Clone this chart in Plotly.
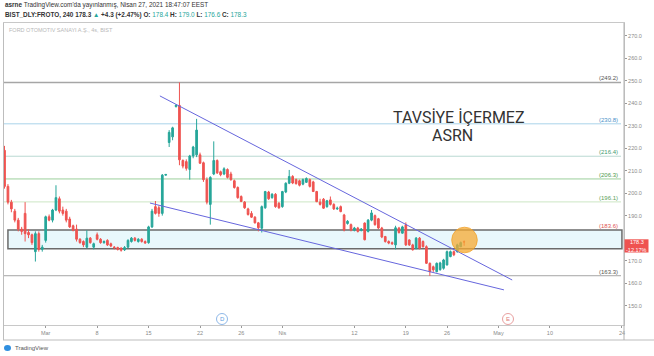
import numpy as np
import pandas as pd
import plotly.graph_objects as go

# ---------------- data ----------------
holidays = ["2021-04-23", "2021-05-13", "2021-05-14", "2021-05-19"]
bars_per_day = 3

opens = [219.0, 203.0, 196.0, 192.0, 188.0, 184.0, 191.0, 182.5, 181.5, 174.0,
         182.0, 175.0, 179.0, 189.5, 188.0, 192.5, 197.5, 192.5, 192.0, 188.5,
         185.5, 184.0, 179.5, 178.5, 176.0, 180.0, 176.0, 181.5, 179.5, 178.0,
         179.0, 177.5, 176.0, 175.8, 175.5, 174.8, 176.0, 178.5, 180.0, 178.5,
         179.5, 178.5, 178.0, 185.0, 194.0, 193.5, 191.0, 208.0, 222.5, 225.0,
         238.5, 239.0, 214.5, 214.0, 210.5, 216.5, 217.0, 217.0, 213.5, 206.0,
         195.0, 208.5, 214.5, 209.5, 208.5, 210.5, 208.5, 205.5, 202.5, 198.5,
         196.0, 193.0, 191.0, 189.3, 186.8, 184.4, 193.5, 200.5, 198.0, 199.5,
         195.5, 194.0, 200.5, 204.4, 207.4, 206.0, 205.5, 204.0, 204.8, 206.0,
         205.0, 200.7, 196.0, 197.3, 194.0, 197.0, 195.0, 193.0, 194.0, 190.3,
         186.5, 186.0, 183.5, 184.5, 183.5, 186.7, 183.0, 188.0, 190.0, 188.6,
         184.5, 180.7, 178.5, 178.0, 177.0, 184.5, 182.2, 185.9, 179.2, 177.0,
         175.5, 180.0, 178.5, 176.2, 168.8, 167.3, 165.1, 166.0, 166.6, 168.1,
         171.8, 174.0, 174.0, 176.2, 178.4]
highs = [221.0, 204.0, 197.0, 193.0, 189.0, 185.0, 196.0, 184.0, 182.0, 183.0,
         183.0, 177.0, 190.0, 190.5, 193.0, 203.5, 198.5, 194.0, 193.0, 189.5,
         186.0, 186.0, 180.0, 179.0, 183.5, 180.5, 178.0, 182.5, 180.0, 179.0,
         179.5, 178.0, 176.5, 176.2, 176.0, 176.5, 179.5, 180.5, 180.5, 180.0,
         180.0, 179.0, 185.5, 193.0, 196.5, 194.5, 208.5, 208.5, 228.0, 229.5,
         239.5, 249.2, 215.0, 215.0, 217.0, 221.0, 233.0, 218.0, 214.0, 207.0,
         207.5, 223.0, 215.0, 210.0, 211.5, 211.0, 209.5, 206.0, 203.0, 199.0,
         196.5, 193.5, 192.0, 189.8, 187.2, 194.5, 201.0, 201.0, 200.0, 200.0,
         196.0, 201.0, 204.8, 210.3, 208.0, 206.5, 206.0, 206.5, 207.0, 206.5,
         205.5, 201.0, 197.5, 197.8, 197.0, 198.5, 195.5, 194.0, 194.5, 190.8,
         188.0, 186.5, 185.0, 185.0, 184.5, 187.0, 188.5, 192.5, 190.5, 189.0,
         185.0, 181.0, 179.0, 178.5, 185.5, 185.0, 185.5, 187.0, 179.5, 177.5,
         180.5, 180.5, 179.0, 176.8, 169.2, 167.8, 169.2, 169.5, 170.8, 174.5,
         174.5, 174.5, 177.5, 178.5, 179.0]
lows = [202.0, 195.0, 191.5, 187.0, 183.0, 181.5, 178.5, 180.0, 177.0, 169.6,
        174.0, 174.0, 178.0, 187.5, 187.0, 192.0, 191.0, 190.0, 187.0, 184.5,
        183.0, 178.5, 177.5, 176.0, 175.5, 177.5, 175.0, 179.0, 177.5, 177.5,
        176.5, 176.0, 175.0, 174.5, 174.0, 174.3, 175.5, 178.0, 178.5, 178.0,
        178.0, 177.5, 177.5, 184.5, 190.5, 189.5, 190.0, 207.8, 220.5, 223.5,
        238.0, 212.4, 211.0, 210.0, 206.0, 215.5, 216.0, 213.0, 205.0, 195.0,
        186.0, 208.0, 208.5, 207.5, 208.0, 206.5, 205.5, 202.0, 197.5, 196.0,
        193.0, 190.0, 189.0, 186.5, 183.0, 182.5, 193.0, 197.0, 197.5, 193.5,
        193.0, 193.5, 200.0, 204.0, 204.0, 203.8, 203.0, 203.5, 204.5, 202.5,
        200.5, 196.0, 194.5, 193.0, 193.5, 194.5, 192.5, 192.5, 191.5, 183.0,
        186.0, 183.0, 183.0, 182.5, 183.0, 179.0, 182.5, 187.5, 185.5, 184.0,
        180.0, 178.0, 177.3, 177.0, 175.0, 182.0, 182.0, 176.5, 176.5, 174.5,
        175.0, 175.0, 175.8, 168.5, 163.2, 165.0, 164.8, 165.5, 166.0, 167.8,
        171.5, 172.0, 173.5, 176.0, 176.6]
closes = [203.0, 196.0, 193.0, 188.0, 184.0, 183.0, 182.0, 181.5, 178.0, 182.0,
          175.0, 176.0, 189.5, 188.0, 192.5, 198.0, 192.0, 191.0, 188.0, 185.0,
          183.5, 179.5, 178.0, 177.0, 180.0, 178.0, 177.5, 179.5, 178.0, 178.5,
          177.0, 176.5, 175.8, 175.0, 174.6, 175.8, 179.0, 180.0, 179.0, 179.5,
          178.5, 177.8, 185.0, 192.0, 191.0, 191.0, 208.0, 208.3, 227.0, 229.0,
          239.0, 214.8, 212.0, 211.0, 216.5, 220.5, 228.0, 213.3, 206.0, 196.0,
          207.0, 214.5, 209.0, 208.2, 210.8, 207.0, 206.0, 202.5, 198.0, 196.3,
          193.5, 190.5, 189.3, 186.8, 184.6, 194.0, 200.7, 197.5, 199.5, 194.0,
          193.5, 200.7, 204.4, 207.4, 204.5, 204.2, 203.5, 206.0, 206.5, 203.0,
          200.7, 196.2, 195.0, 193.3, 196.6, 195.0, 193.0, 193.3, 191.8, 183.6,
          187.5, 183.6, 184.5, 183.0, 184.0, 179.3, 188.0, 191.2, 186.0, 184.5,
          180.5, 178.5, 177.8, 177.5, 184.6, 182.5, 185.0, 177.0, 177.0, 174.8,
          180.0, 175.5, 176.2, 168.8, 165.1, 165.9, 168.8, 169.0, 170.3, 174.0,
          174.0, 172.6, 177.0, 178.0, 178.3]

tick_dates = ["2021-03-01", "2021-03-08", "2021-03-15", "2021-03-22", "2021-03-26",
              "2021-04-01", "2021-04-12", "2021-04-19", "2021-04-26", "2021-05-03",
              "2021-05-10", "2021-05-24"]
tick_labels = ["Mar", "8", "15", "22", "26", "Nis", "12", "19", "26", "May", "10", "24"]

price_ticks = [150, 160, 170, 190, 200, 210, 220, 230, 240, 250, 260, 270]

levels = [249.2, 230.8, 216.4, 206.3, 196.1, 163.3]
level_line_colors = ["#a6a6a6", "#a9d3ea", "#b9d9d2", "#9ccf9c", "#cce6c4", "#a6a6a6"]
level_text_colors = ["#555555", "#4a90c8", "#3f9a6f", "#4c9a4c", "#5aa05a", "#555555"]

box_x = [1.0, 180.0]
box_y = [175.3, 183.6]

upper_x = [45.3, 148.0]
upper_y = [243.2, 161.4]
lower_x = [42.4, 145.6]
lower_y = [195.6, 157.0]

# ---------------- geometry helpers ----------------
L, R, T, B = 4, 30, 23, 31
W, H = 654, 356
PW, PH = W - L - R, H - T - B


def xp(px):
    return (px - L) / PW


def yp(py):
    return (H - B - py) / PH


days = pd.bdate_range("2021-02-23", "2021-05-24")
days = [d.strftime("%Y-%m-%d") for d in days if d.strftime("%Y-%m-%d") not in holidays]
x = np.arange(len(opens))
tickvals = [days.index(d) * bars_per_day for d in tick_dates]

fig = go.Figure()

fig.add_trace(go.Candlestick(
    x=x, open=opens, high=highs, low=lows, close=closes,
    increasing=dict(line=dict(color="#26a69a", width=1), fillcolor="#26a69a"),
    decreasing=dict(line=dict(color="#ef5350", width=1), fillcolor="#ef5350"),
    whiskerwidth=0, showlegend=False, hoverinfo="skip"))

fig.add_trace(go.Scatter(x=upper_x, y=upper_y, mode="lines",
                         line=dict(color="#6666dd", width=1), showlegend=False, hoverinfo="skip"))
fig.add_trace(go.Scatter(x=lower_x, y=lower_y, mode="lines",
                         line=dict(color="#6666dd", width=1), showlegend=False, hoverinfo="skip"))

shapes = []
for lv, lc in zip(levels, level_line_colors):
    shapes.append(dict(type="line", xref="paper", yref="y", x0=0, x1=xp(621), y0=lv, y1=lv,
                       line=dict(color=lc, width=1.5 if lv == levels[0] else 1), layer="below"))
shapes.append(dict(type="rect", xref="x", yref="y", x0=box_x[0], x1=box_x[1], y0=box_y[0], y1=box_y[1],
                   line=dict(color="#6b6b6b", width=1.5), fillcolor="rgba(228,246,251,0.8)", layer="below"))
# orange highlight circle
shapes.append(dict(type="circle", xref="paper", yref="paper",
                   x0=xp(451.7), x1=xp(477.3), y0=yp(252.8), y1=yp(227.2),
                   line=dict(color="rgba(240,160,40,0.75)", width=1), fillcolor="rgba(245,170,50,0.75)"))
# D and E markers
shapes.append(dict(type="circle", xref="paper", yref="paper", x0=xp(216.5), x1=xp(227.5),
                   y0=yp(324.5), y1=yp(313.5), line=dict(color="#8fb8e8", width=1), fillcolor="white"))
shapes.append(dict(type="circle", xref="paper", yref="paper", x0=xp(502.5), x1=xp(513.5),
                   y0=yp(324.5), y1=yp(313.5), line=dict(color="#e8a0a0", width=1), fillcolor="white"))
# outer frame lines
shapes.append(dict(type="line", xref="paper", yref="paper", x0=xp(3), x1=xp(654), y0=yp(340), y1=yp(340),
                   line=dict(color="#bdbdbd", width=1)))
shapes.append(dict(type="line", xref="paper", yref="paper", x0=xp(3.5), x1=xp(3.5), y0=yp(340), y1=yp(23),
                   line=dict(color="#bdbdbd", width=1)))
shapes.append(dict(type="line", xref="paper", yref="paper", x0=xp(624), x1=xp(624), y0=yp(340), y1=yp(23),
                   line=dict(color="#b0b0b0", width=1)))
# last price label
shapes.append(dict(type="rect", xref="paper", yref="paper", x0=xp(624.5), x1=xp(648.5),
                   y0=yp(252.5), y1=yp(239.3), line=dict(width=0), fillcolor="#ef5350"))
# TradingView logo blob
shapes.append(dict(type="circle", xref="paper", yref="paper", x0=xp(4), x1=xp(11),
                   y0=yp(351), y1=yp(345), line=dict(width=0), fillcolor="#2f8fe0"))

ann = []
for lv, tc in zip(levels, level_text_colors):
    ann.append(dict(xref="paper", yref="y", x=xp(620), y=lv, text="(%.1f)" % lv, showarrow=False,
                    xanchor="right", yanchor="bottom", yshift=-1,
                    font=dict(size=6, color=tc, family="Liberation Sans")))
ann.append(dict(xref="paper", yref="y", x=xp(620), y=box_y[1], text="(183.6)", showarrow=False,
                xanchor="right", yanchor="bottom", yshift=-1,
                font=dict(size=6, color="#e05555", family="Liberation Sans")))
ann.append(dict(xref="paper", yref="paper", x=xp(459), y=yp(117), text="TAVSİYE İÇERMEZ", showarrow=False,
                xanchor="center", yanchor="middle", font=dict(size=16, color="#333333", family="Roboto")))
ann.append(dict(xref="paper", yref="paper", x=xp(452), y=yp(135), text="ASRN", showarrow=False,
                xanchor="center", yanchor="middle", font=dict(size=16, color="#333333", family="Roboto")))
ann.append(dict(xref="paper", yref="paper", x=xp(222), y=yp(319), text="D", showarrow=False,
                xanchor="center", yanchor="middle", font=dict(size=6, color="#5b9be0", family="Liberation Sans")))
ann.append(dict(xref="paper", yref="paper", x=xp(508), y=yp(319), text="E", showarrow=False,
                xanchor="center", yanchor="middle", font=dict(size=6, color="#e07a7a", family="Liberation Sans")))
ann.append(dict(xref="paper", yref="paper", x=xp(636.5), y=yp(242), text="178.3", showarrow=False,
                xanchor="center", yanchor="middle", font=dict(size=5.5, color="white", family="Liberation Sans")))
ann.append(dict(xref="paper", yref="paper", x=xp(636.5), y=yp(249.5), text="-12.17%", showarrow=False,
                xanchor="center", yanchor="middle", font=dict(size=5.5, color="white", family="Liberation Sans")))
ann.append(dict(xref="paper", yref="paper", x=xp(3), y=yp(5), showarrow=False, xanchor="left", yanchor="middle",
                text="<b>asrne</b> TradingView.com'da yayınlanmış, Nisan 27, 2021 18:47:07 EEST",
                font=dict(size=6.4, color="#333333", family="Liberation Sans")))
ann.append(dict(xref="paper", yref="paper", x=xp(3), y=yp(15), showarrow=False, xanchor="left", yanchor="middle",
                text="<b>BIST_DLY:FROTO, 240</b> <b>178.3</b> <span style='color:#26a69a'>▲</span> <b>+4.3 (+2.47%)</b> "
                     "<b>O:</b> <span style='color:#26a69a'>178.4</span> <b>H:</b> <span style='color:#26a69a'>179.0</span> "
                     "<b>L:</b> <span style='color:#26a69a'>176.6</span> <b>C:</b> <span style='color:#26a69a'>178.3</span>",
                font=dict(size=6.4, color="#333333", family="Liberation Sans")))
ann.append(dict(xref="paper", yref="paper", x=xp(7), y=yp(30), showarrow=False, xanchor="left", yanchor="middle",
                text="FORD OTOMOTIV SANAYI A.Ş., 4s, BIST",
                font=dict(size=5.5, color="#b8b8b8", family="Liberation Sans")))
ann.append(dict(xref="paper", yref="paper", x=xp(13), y=yp(348), showarrow=False, xanchor="left", yanchor="middle",
                text="TradingView", font=dict(size=6, color="#555555", family="Liberation Sans")))

fig.update_layout(
    width=W, height=H, margin=dict(l=L, r=R, t=T, b=B),
    paper_bgcolor="white", plot_bgcolor="white",
    shapes=shapes, annotations=ann,
    xaxis=dict(range=[-0.15, 180.6], tickvals=tickvals, ticktext=tick_labels,
               showgrid=False, zeroline=False, showline=True, mirror=True, linecolor="#c8c8c8",
               ticks="outside", ticklen=2, tickcolor="#999999",
               tickfont=dict(size=5.5, color="#8a8a8a", family="Liberation Sans"),
               rangeslider=dict(visible=False), fixedrange=True),
    yaxis=dict(range=[141.4, 275.6], side="right", tickvals=price_ticks,
               ticktext=["%.1f" % v for v in price_ticks],
               showgrid=False, zeroline=False, showline=True, mirror=True, linecolor="#c8c8c8",
               ticks="outside", ticklen=2, tickcolor="#999999",
               tickfont=dict(size=5.5, color="#8a8a8a", family="Liberation Sans"), fixedrange=True),
)

fig.write_html("out.html", config={"displayModeBar": False},
               post_script="document.body.style.margin='0';document.body.style.overflow='hidden';")
